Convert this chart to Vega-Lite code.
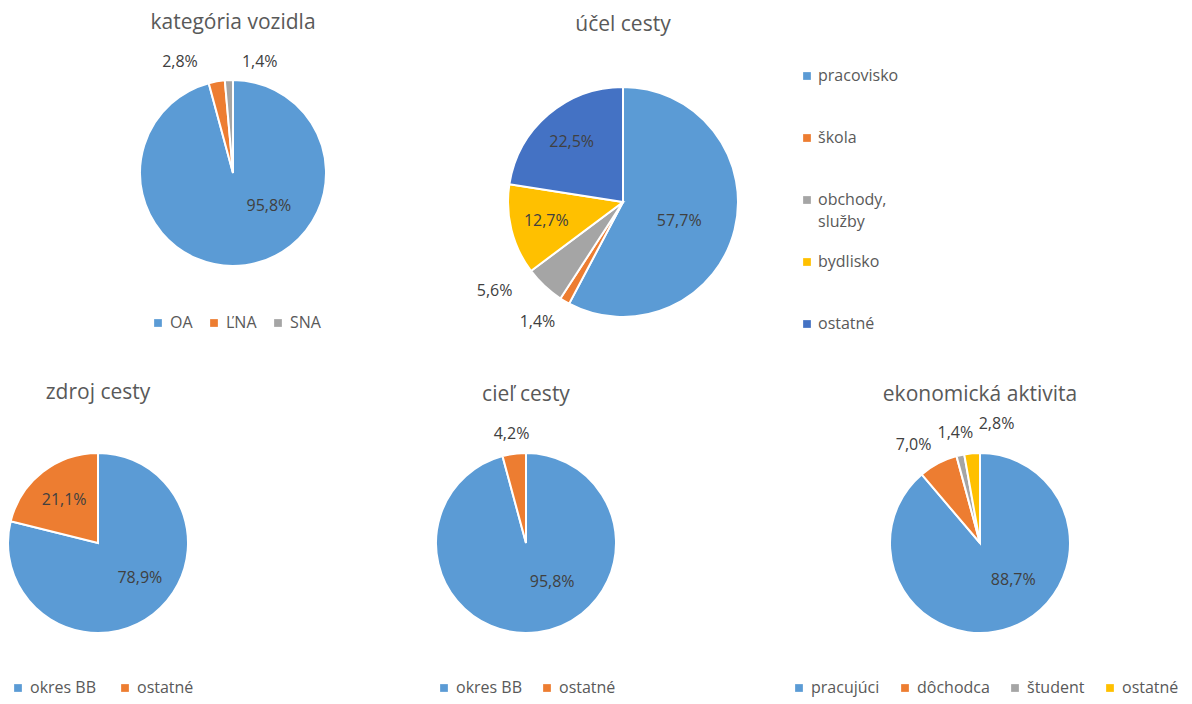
{
  "$schema": "https://vega.github.io/schema/vega-lite/v6.json",
  "padding": {"left": 0, "top": 12, "right": 0, "bottom": 3},
  "background": "white",
  "bounds": "flush",
  "spacing": 373,
  "datasets": {
    "kat": [
      {"n": 1, "c": "OA", "p": 0.958},
      {"n": 2, "c": "ĽNA", "p": 0.028},
      {"n": 3, "c": "SNA", "p": 0.014}
    ],
    "ucel": [
      {"n": 1, "c": "pracovisko", "p": 0.577},
      {"n": 2, "c": "škola", "p": 0.014},
      {"n": 3, "c": "obchody, služby", "p": 0.056},
      {"n": 4, "c": "bydlisko", "p": 0.127},
      {"n": 5, "c": "ostatné", "p": 0.225}
    ],
    "zdroj": [
      {"n": 1, "c": "okres BB", "p": 0.789},
      {"n": 2, "c": "ostatné", "p": 0.211}
    ],
    "ciel": [
      {"n": 1, "c": "okres BB", "p": 0.958},
      {"n": 2, "c": "ostatné", "p": 0.042}
    ],
    "eko": [
      {"n": 1, "c": "pracujúci", "p": 0.887},
      {"n": 2, "c": "dôchodca", "p": 0.070},
      {"n": 3, "c": "študent", "p": 0.014},
      {"n": 4, "c": "ostatné", "p": 0.028}
    ]
  },
  "resolve": {"scale": {"color": "independent", "theta": "independent"}, "legend": {"color": "independent"}},
  "vconcat": [
    {
      "hconcat": [
        {
          "width": 466, "height": 186,
          "title": {"text": "kategória vozidla", "offset": 19},
          "data": {"name": "kat"},
          "encoding": {
            "theta": {"field": "p", "type": "quantitative", "stack": true},
            "order": {"field": "n", "type": "quantitative"},
            "color": {"field": "c", "type": "nominal",
              "scale": {"domain": ["OA", "ĽNA", "SNA"], "range": ["#5B9BD5", "#ED7D31", "#A5A5A5"]},
              "legend": {"orient": "none", "legendX": 150, "legendY": 235, "direction": "horizontal", "title": null, "columnPadding": 13}}
          },
          "layer": [
            {"mark": {"type": "arc", "outerRadius": 93, "stroke": "white", "strokeWidth": 2}},
            {"mark": {"type": "text", "radius": 45, "dx": 30, "dy": -12},
             "encoding": {"color": {"value": "#404040"}, "text": {"condition": {"test": "datum.c == 'OA'", "field": "p", "format": ".1%"}, "value": ""}}},
            {"mark": {"type": "text", "radius": 120, "dx": -32, "dy": 7},
             "encoding": {"color": {"value": "#404040"}, "text": {"condition": {"test": "datum.c == 'ĽNA'", "field": "p", "format": ".1%"}, "value": ""}}},
            {"mark": {"type": "text", "radius": 120, "dx": 32, "dy": 9},
             "encoding": {"color": {"value": "#404040"}, "text": {"condition": {"test": "datum.c == 'SNA'", "field": "p", "format": ".1%"}, "value": ""}}}
          ]
        },
        {
          "width": 314, "height": 244,
          "title": {"text": "účel cesty", "offset": 24},
          "data": {"name": "ucel"},
          "encoding": {
            "theta": {"field": "p", "type": "quantitative", "stack": true},
            "order": {"field": "n", "type": "quantitative"},
            "color": {"field": "c", "type": "nominal",
              "scale": {"domain": ["pracovisko", "škola", "obchody, služby", "bydlisko", "ostatné"], "range": ["#5B9BD5", "#ED7D31", "#A5A5A5", "#FFC000", "#4472C4"]},
              "legend": {"orient": "none", "legendX": 333, "legendY": -12, "direction": "vertical", "title": null, "rowPadding": 24, "gridAlign": "all", "labelOffset": 3,
                "labelExpr": "datum.label == 'obchody, služby' ? ['obchody,', 'služby'] : datum.label"}}
          },
          "layer": [
            {"mark": {"type": "arc", "outerRadius": 115, "stroke": "white", "strokeWidth": 2}},
            {"mark": {"type": "text", "radius": 60, "dy": 5, "dx": -2},
             "encoding": {"color": {"value": "#404040"}, "text": {"condition": {"test": "datum.c == 'pracovisko'", "field": "p", "format": ".1%"}, "value": ""}}},
            {"mark": {"type": "text", "radius": 79},
             "encoding": {"color": {"value": "#404040"}, "text": {"condition": {"test": "datum.c == 'ostatné' || datum.c == 'bydlisko'", "field": "p", "format": ".1%"}, "value": ""}}},
            {"mark": {"type": "text", "radius": 150, "dx": -26, "dy": -21},
             "encoding": {"color": {"value": "#404040"}, "text": {"condition": {"test": "datum.c == 'obchody, služby'", "field": "p", "format": ".1%"}, "value": ""}}},
            {"mark": {"type": "text", "radius": 147, "dx": -11, "dy": -7},
             "encoding": {"color": {"value": "#404040"}, "text": {"condition": {"test": "datum.c == 'škola'", "field": "p", "format": ".1%"}, "value": ""}}}
          ]
        }
      ],
      "spacing": 0,
      "bounds": "flush",
      "resolve": {"scale": {"color": "independent", "theta": "independent"}, "legend": {"color": "independent"}}
    },
    {
      "hconcat": [
        {
          "width": 196, "height": 180,
          "title": {"text": "zdroj cesty", "offset": 46},
          "data": {"name": "zdroj"},
          "encoding": {
            "theta": {"field": "p", "type": "quantitative", "stack": true},
            "order": {"field": "n", "type": "quantitative"},
            "color": {"field": "c", "type": "nominal",
              "scale": {"domain": ["okres BB", "ostatné"], "range": ["#5B9BD5", "#ED7D31"]},
              "legend": {"orient": "none", "legendX": 10, "legendY": 227, "direction": "horizontal", "title": null, "columnPadding": 20}}
          },
          "layer": [
            {"mark": {"type": "arc", "outerRadius": 90, "stroke": "white", "strokeWidth": 2}},
            {"mark": {"type": "text", "radius": 55, "dx": 8, "dy": -8},
             "encoding": {"color": {"value": "#404040"}, "text": {"condition": {"test": "datum.c == 'okres BB'", "field": "p", "format": ".1%"}, "value": ""}}},
            {"mark": {"type": "text", "radius": 55},
             "encoding": {"color": {"value": "#404040"}, "text": {"condition": {"test": "datum.c == 'ostatné'", "field": "p", "format": ".1%"}, "value": ""}}}
          ]
        },
        {
          "width": 660, "height": 180,
          "title": {"text": "cieľ cesty", "offset": 21},
          "data": {"name": "ciel"},
          "encoding": {
            "theta": {"field": "p", "type": "quantitative", "stack": true},
            "order": {"field": "n", "type": "quantitative"},
            "color": {"field": "c", "type": "nominal",
              "scale": {"domain": ["okres BB", "ostatné"], "range": ["#5B9BD5", "#ED7D31"]},
              "legend": {"orient": "none", "legendX": 240, "legendY": 227, "direction": "horizontal", "title": null, "columnPadding": 16}}
          },
          "layer": [
            {"mark": {"type": "arc", "outerRadius": 90, "stroke": "white", "strokeWidth": 2}},
            {"mark": {"type": "text", "radius": 47, "dx": 20, "dy": -8},
             "encoding": {"color": {"value": "#404040"}, "text": {"condition": {"test": "datum.c == 'okres BB'", "field": "p", "format": ".1%"}, "value": ""}}},
            {"mark": {"type": "text", "radius": 110},
             "encoding": {"color": {"value": "#404040"}, "text": {"condition": {"test": "datum.c == 'ostatné'", "field": "p", "format": ".1%"}, "value": ""}}}
          ]
        },
        {
          "width": 248, "height": 180,
          "title": {"text": "ekonomická aktivita", "offset": 11},
          "data": {"name": "eko"},
          "encoding": {
            "theta": {"field": "p", "type": "quantitative", "stack": true},
            "order": {"field": "n", "type": "quantitative"},
            "color": {"field": "c", "type": "nominal",
              "scale": {"domain": ["pracujúci", "dôchodca", "študent", "ostatné"], "range": ["#5B9BD5", "#ED7D31", "#A5A5A5", "#FFC000"]},
              "legend": {"orient": "none", "legendX": -65, "legendY": 227, "direction": "horizontal", "title": null, "columnPadding": 17}}
          },
          "layer": [
            {"mark": {"type": "arc", "outerRadius": 90, "stroke": "white", "strokeWidth": 2}},
            {"mark": {"type": "text", "radius": 50, "dx": 16, "dy": -10},
             "encoding": {"color": {"value": "#404040"}, "text": {"condition": {"test": "datum.c == 'pracujúci'", "field": "p", "format": ".1%"}, "value": ""}}},
            {"mark": {"type": "text", "radius": 119, "dx": -11, "dy": 7},
             "encoding": {"color": {"value": "#404040"}, "text": {"condition": {"test": "datum.c == 'dôchodca'", "field": "p", "format": ".1%"}, "value": ""}}},
            {"mark": {"type": "text", "radius": 113},
             "encoding": {"color": {"value": "#404040"}, "text": {"condition": {"test": "datum.c == 'študent'", "field": "p", "format": ".1%"}, "value": ""}}},
            {"mark": {"type": "text", "radius": 119, "dx": 27},
             "encoding": {"color": {"value": "#404040"}, "text": {"condition": {"test": "datum.c == 'ostatné'", "field": "p", "format": ".1%"}, "value": ""}}}
          ]
        }
      ],
      "spacing": 0,
      "bounds": "flush",
      "resolve": {"scale": {"color": "independent", "theta": "independent"}, "legend": {"color": "independent"}}
    }
  ],
  "config": {
    "view": {"stroke": null},
    "font": "Open Sans",
    "title": {"fontSize": 21, "fontWeight": "normal", "color": "#595959", "font": "Open Sans", "anchor": "middle"},
    "legend": {"labelFont": "Open Sans", "labelFontSize": 16, "labelColor": "#595959", "symbolType": "square", "symbolSize": 60, "symbolStrokeWidth": 0, "padding": 0, "labelOffset": 4},
    "style": {"guide-label": {"lineHeight": 22}},
    "text": {"font": "Open Sans", "fontSize": 16},
    "locale": {"number": {"decimal": ",", "thousands": " ", "grouping": [3], "currency": ["", " €"]}}
  }
}
